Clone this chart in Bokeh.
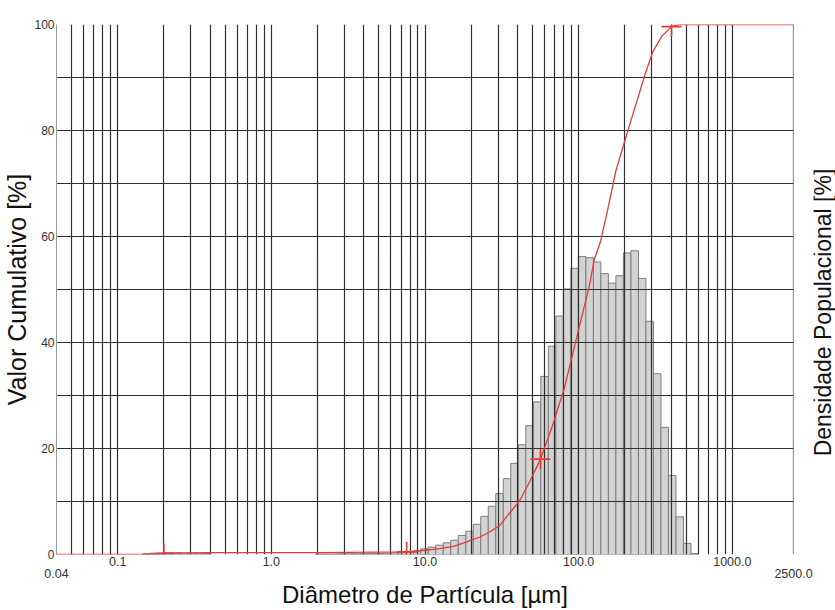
import numpy as np
from bokeh.plotting import figure
from bokeh.layouts import row
from bokeh.models import (Range1d, FixedTicker, LogAxis, Span,
                          CustomJSTickFormatter)
from bokeh.core.properties import value
from bokeh.embed import file_html
from bokeh.resources import INLINE

# Particle-size bins (µm): 75 edges -> 74 bins
bin_edges = [0.146, 0.163, 0.183, 0.205, 0.229, 0.256, 0.287, 0.321, 0.359,
             0.402, 0.450, 0.503, 0.563, 0.630, 0.705, 0.789, 0.883, 0.988,
             1.106, 1.238, 1.385, 1.550, 1.735, 1.941, 2.172, 2.431, 2.720,
             3.044, 3.407, 3.812, 4.266, 4.774, 5.342, 5.978, 6.690, 7.487,
             8.378, 9.376, 10.49, 11.74, 13.14, 14.71, 16.46, 18.42, 20.61,
             23.07, 25.81, 28.88, 32.32, 36.17, 40.48, 45.30, 50.69, 56.73,
             63.48, 71.04, 79.50, 88.97, 99.56, 111.4, 124.7, 139.5, 156.1,
             174.7, 195.5, 218.8, 244.9, 274.0, 306.7, 343.2, 384.0, 429.8,
             480.9, 538.2, 602.3]

# Population density per bin
density = [0.15, 0.25, 0.3, 0.35, 0.35, 0.3, 0.3, 0.25, 0.2,
           0, 0, 0, 0, 0, 0, 0, 0, 0, 0, 0, 0, 0, 0,
           0.1, 0.1, 0.1, 0.15, 0.15, 0.15, 0.15, 0.2, 0.2, 0.25, 0.3, 0.35, 0.5, 0.7,
           1.06, 1.4, 1.75, 2.2, 2.7, 3.6, 4.4, 5.7, 7.2, 9.1, 11.5, 14.3, 17.2,
           20.7, 24.3, 28.8, 33.6, 39.3, 45.0, 50.1, 54.0, 56.2, 56.0, 55.2, 53.0,
           51.2, 52.6, 56.9, 57.3, 52.1, 44.0, 34.1, 24.0, 14.9, 7.1, 2.1, 0.2]

# Cumulative undersize curve
cum_d = [0.04, 0.15, 0.2, 0.3, 0.4, 2.0, 5.0, 7.6, 10.0, 12.5, 15.5, 18.7,
         22.8, 26.5, 30.7, 35.0, 41.0, 47.5, 56.4, 67.0, 80.5, 90.0, 100.8,
         117.0, 126.0, 139.5, 157.0, 175.0, 219.0, 248.0, 267.0, 303.0,
         348.0, 402.0, 454.0, 2500.0]
cum_v = [0.0, 0.0, 0.2, 0.3, 0.35, 0.35, 0.45, 0.5, 0.8, 1.1, 1.6, 2.4,
         3.3, 4.3, 5.5, 7.6, 10.0, 13.5, 18.0, 24.0, 31.3, 37.0, 42.9,
         50.5, 55.5, 59.3, 66.0, 72.5, 81.9, 87.0, 90.1, 94.8,
         97.8, 99.6, 100.0, 100.0]

# Marked points on the cumulative curve
mark_d = [0.2, 7.6, 56.4, 402.0]
mark_v = [0.2, 0.5, 18.0, 99.6]

x_ticks = [0.1, 1, 10, 100, 1000]
x_end_ticks = [0.04, 2500]
y_ticks = [0, 20, 40, 60, 80, 100]

FONT = "Liberation Sans"
GRID = "#303030"
RED = "#e63b33"

p = figure(width=813, height=610, x_axis_type="log",
           x_range=Range1d(0.04, 2500), y_range=Range1d(0, 100),
           output_backend="svg", toolbar_location=None,
           min_border_left=56, min_border_right=20,
           min_border_top=24, min_border_bottom=56,
           outline_line_color=None, background_fill_color="white",
           border_fill_color="white")

# histogram bars (only non-empty bins)
lo, hi, top = [], [], []
for i, h in enumerate(density):
    if h > 0:
        lo.append(bin_edges[i])
        hi.append(bin_edges[i + 1])
        top.append(h)
bars = p.quad(left=lo, right=hi, bottom=0, top=top,
              fill_color="#d3d3d3", line_color="#7d7d7d", line_width=1)
bars.level = "image"

# grid: every 10 % and full log sub-decades
grid_x = []
for dec in [0.01, 0.1, 1, 10, 100]:
    for m in range(1, 10):
        v = round(m * dec, 6)
        if 0.04 < v <= 1000:
            grid_x.append(v)
grid_x.append(1000)
p.xgrid.ticker = FixedTicker(ticks=grid_x)
p.ygrid.ticker = FixedTicker(ticks=list(range(0, 101, 10)))
for g in (p.xgrid[0], p.ygrid[0]):
    g.grid_line_color = GRID
    g.grid_line_width = 1.2

p.add_layout(Span(location=2500, dimension="height",
                  line_color=GRID, line_width=1.2))

# cumulative curve and markers
p.line(cum_d, cum_v, line_color=RED, line_width=1.3)
p.scatter(mark_d, mark_v, marker="cross", size=20,
          line_color=RED, line_width=1.6)

fmt = CustomJSTickFormatter(
    code="return tick >= 1 ? tick.toFixed(1) : tick.toString();")


def plain(ax, standoff):
    ax.axis_line_color = None
    ax.major_tick_line_color = None
    ax.minor_tick_line_color = None
    ax.major_tick_out = 0
    ax.major_tick_in = 0
    ax.minor_tick_out = 0
    ax.minor_tick_in = 0
    ax.major_label_standoff = standoff
    ax.major_label_text_font = FONT
    ax.major_label_text_font_size = "12.5px"
    ax.major_label_text_color = "#333333"
    ax.axis_label_text_font = FONT
    ax.axis_label_text_font_size = "25px"
    ax.axis_label_text_font_style = "normal"
    ax.axis_label_text_color = "#111111"
    ax.axis_label_standoff = 0


xa = p.xaxis[0]
xa.ticker = FixedTicker(ticks=x_ticks)
xa.formatter = fmt
plain(xa, 2)

ax2 = LogAxis(ticker=FixedTicker(ticks=x_end_ticks), formatter=fmt)
plain(ax2, 0)
ax2.axis_label = "Diâmetro de Partícula [µm]"
ax2.axis_label_text_font_size = "24px"
p.add_layout(ax2, "below")

ya = p.yaxis[0]
ya.ticker = FixedTicker(ticks=y_ticks)
plain(ya, 2)
ya.axis_line_color = "#9a9a9a"
ya.major_label_text_font_size = "12px"
ya.axis_label = "Valor Cumulativo [%]"

# narrow strip on the right carrying the density-axis title (bottom-to-top)
q = figure(title=None, frame_width=22, frame_height=610,
           x_range=Range1d(0, 22), y_range=Range1d(0, 610),
           output_backend="svg", toolbar_location=None,
           min_border_left=0, min_border_right=0,
           min_border_top=0, min_border_bottom=0,
           outline_line_color=None,
           x_axis_location=None, y_axis_location=None,
           background_fill_color="white", border_fill_color="white")
q.grid.visible = False
q.text(x=[9], y=[322], text=["Densidade Populacional [%]"],
       angle=np.pi / 2, text_align="center", text_baseline="middle",
       text_font=value(FONT), text_font_size="23px", text_color="#111111")

open("out.html", "w").write(file_html(row(p, q, spacing=0), INLINE))
